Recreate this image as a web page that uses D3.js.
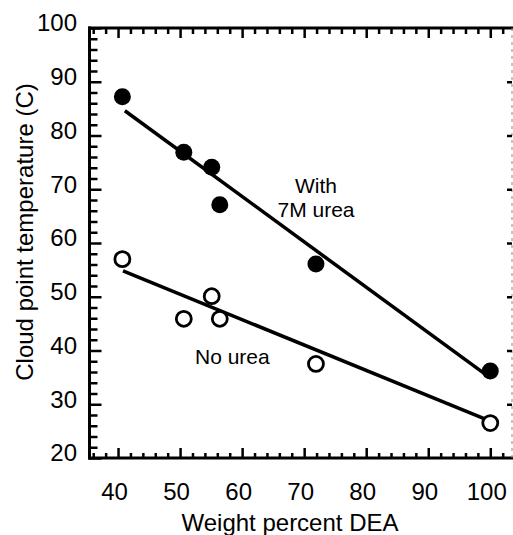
<!DOCTYPE html>
<html>
<head>
<meta charset="utf-8">
<script src="https://cdn.jsdelivr.net/npm/d3@7"></script>
<style>
  html, body { margin: 0; padding: 0; background: #fff; }
  svg { display: block; }
  text { font-family: Arial, "Liberation Sans", sans-serif; fill: #000; }
</style>
</head>
<body>
<svg id="chart" width="513" height="535"></svg>
<script>
// Weight percent DEA and measured cloud points (°C)
const ureaDEA   = [40.7, 50.6, 55.1, 56.4, 71.9, 100.0];
const ureaTemp  = [87.2, 76.9, 74.1, 67.1, 56.1, 36.2];
const plainDEA  = [40.7, 50.6, 55.1, 56.4, 71.9, 100.0];
const plainTemp = [57.0, 45.9, 50.1, 45.9, 37.5, 26.5];

// Fitted trend lines: [x, y] end points
const ureaFitX  = [41.1, 100.0];
const ureaFitY  = [84.6, 34.9];
const plainFitX = [40.8, 99.5];
const plainFitY = [54.8, 27.1];

// Tick values
const xMajor = [40, 50, 60, 70, 80, 90, 100];
const yMajor = [20, 30, 40, 50, 60, 70, 80, 90, 100];
const xMinor = d3.range(36, 104, 2).filter(v => v % 10 !== 0);
const yMinor = d3.range(20, 100, 2).filter(v => v % 10 !== 0);

const svg = d3.select("#chart");

const plotL = 89.5, plotR = 512, plotT = 28, plotB = 458;
const x = d3.scaleLinear().domain([35.4, 103.5]).range([plotL, plotR]);
const y = d3.scaleLinear().domain([20, 100]).range([plotB, plotT]);

// --- frame ---
const frame = svg.append("g").attr("stroke", "#000").attr("stroke-width", 3);
frame.append("line").attr("x1", plotL).attr("x2", plotL).attr("y1", plotT - 1.5).attr("y2", plotB + 1.5);
frame.append("line").attr("x1", plotL - 1.5).attr("x2", 513).attr("y1", plotT).attr("y2", plotT);
frame.append("line").attr("x1", plotL - 1.5).attr("x2", 513).attr("y1", plotB).attr("y2", plotB);
// faint right edge
svg.append("line")
  .attr("x1", plotR).attr("x2", plotR).attr("y1", plotT).attr("y2", plotB)
  .attr("stroke", "#888").attr("stroke-width", 1).attr("stroke-dasharray", "3,4");

function tickGroup(axis, tx, ty, width) {
  const g = svg.append("g").attr("transform", `translate(${tx},${ty})`).call(axis);
  g.select(".domain").remove();
  g.selectAll(".tick line").attr("stroke", "#000").attr("stroke-width", width);
  g.selectAll(".tick text").remove();
  return g;
}

// bottom ticks (pointing up)
tickGroup(d3.axisBottom(x).tickValues(xMinor).tickSize(-5), 0, plotB, 2.5);
tickGroup(d3.axisBottom(x).tickValues(xMajor).tickSize(-10), 0, plotB, 2.5);
// top ticks (pointing down)
tickGroup(d3.axisTop(x).tickValues(xMinor).tickSize(-6), 0, plotT, 2.5);
tickGroup(d3.axisTop(x).tickValues(xMajor).tickSize(-10), 0, plotT, 2.5);
// left ticks (pointing right)
tickGroup(d3.axisLeft(y).tickValues(yMinor).tickSize(-8), plotL, 0, 2.5);
tickGroup(d3.axisLeft(y).tickValues(yMajor).tickSize(-12), plotL, 0, 2.5);
// right ticks (pointing left)
tickGroup(d3.axisRight(y).tickValues(yMajor.slice(1, -1)).tickSize(-5), plotR, 0, 2.5);

// --- tick labels ---
const xLab = svg.append("g").attr("transform", `translate(-4,${plotB})`)
  .call(d3.axisBottom(x).tickValues(xMajor).tickSize(0).tickPadding(25));
xLab.select(".domain").remove();
xLab.selectAll("text").attr("font-size", 24).attr("font-family", "Arial, 'Liberation Sans', sans-serif");

const yLab = svg.append("g").attr("transform", `translate(77,0)`)
  .call(d3.axisLeft(y).tickValues(yMajor).tickSize(0).tickPadding(0));
yLab.select(".domain").remove();
yLab.selectAll("text").attr("font-size", 24).attr("dy", "0.12em")
  .attr("font-family", "Arial, 'Liberation Sans', sans-serif");

// --- axis titles ---
svg.append("text")
  .attr("x", (180 + 400) / 2).attr("y", 531)
  .attr("text-anchor", "middle").attr("font-size", 24)
  .text("Weight percent DEA");

svg.append("text")
  .attr("transform", "translate(33,232) rotate(-90)")
  .attr("text-anchor", "middle").attr("font-size", 24)
  .text("Cloud point temperature (C)");

// --- trend lines ---
const line = d3.line().x(d => x(d[0])).y(d => y(d[1]));
svg.append("path").datum(d3.zip(ureaFitX, ureaFitY))
  .attr("d", line).attr("fill", "none").attr("stroke", "#000").attr("stroke-width", 3.5);
svg.append("path").datum(d3.zip(plainFitX, plainFitY))
  .attr("d", line).attr("fill", "none").attr("stroke", "#000").attr("stroke-width", 3.5);

// --- points ---
svg.append("g").selectAll("circle").data(d3.zip(ureaDEA, ureaTemp)).join("circle")
  .attr("cx", d => x(d[0])).attr("cy", d => y(d[1])).attr("r", 8.5)
  .attr("fill", "#000");
svg.append("g").selectAll("circle").data(d3.zip(plainDEA, plainTemp)).join("circle")
  .attr("cx", d => x(d[0])).attr("cy", d => y(d[1])).attr("r", 7.5)
  .attr("fill", "#fff").attr("stroke", "#000").attr("stroke-width", 2.8);

// --- series labels ---
svg.append("text").attr("x", 316).attr("y", 193).attr("text-anchor", "middle")
  .attr("font-size", 21).text("With");
svg.append("text").attr("x", 316).attr("y", 217).attr("text-anchor", "middle")
  .attr("font-size", 21).text("7M urea");
svg.append("text").attr("x", 195).attr("y", 364)
  .attr("font-size", 21).text("No urea");
</script>
</body>
</html>
